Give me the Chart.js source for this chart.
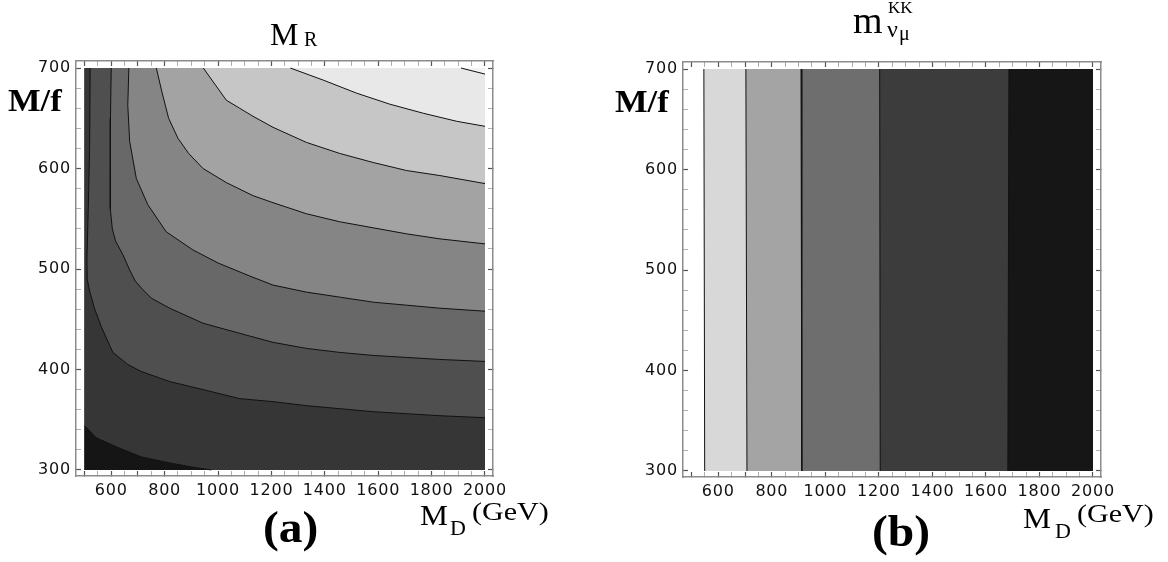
<!DOCTYPE html>
<html>
<head>
<meta charset="utf-8">
<script src="https://cdn.jsdelivr.net/npm/chart.js@4.4.1/dist/chart.umd.min.js"></script>
<style>
    html, body { margin: 0; padding: 0; background: #fff; }
    #page { position: relative; width: 1168px; height: 562px; overflow: hidden; background: #fff; }
    .box { position: absolute; top: 0; width: 584px; height: 562px; }
    .lbl { position: absolute; line-height: 1; white-space: nowrap; color: #000;
           font-family: "Liberation Serif", serif; transform-origin: 0 0; }
</style>
</head>
<body>
<div id="page">
    <div class="box" style="left:0"><canvas id="chartA" width="584" height="562"></canvas></div>
    <div class="box" style="left:584px"><canvas id="chartB" width="584" height="562"></canvas></div>
</div>
<script>
// Panel (a): contour lines of M_R, as [M_D, M/f] points
const mrLevel1 = [[500, 344], [544, 332], [619, 323], [713, 313], [819, 307], [900, 303], [975, 300]];
const mrLevel2 = [[521, 700], [519, 620], [514, 560], [509, 510], [510, 490], [519, 478], [537, 461], [562, 443],
    [606, 417], [662, 405], [712, 398], [819, 388], [944, 380], [1081, 371], [1206, 368], [1331, 364],
    [1456, 361], [1581, 358], [1706, 356], [1831, 354], [2000, 352]];
const mrLevel3 = [[600, 700], [597, 650], [596, 600], [597, 560], [604, 540], [616, 528], [644, 514], [669, 499],
    [690, 488], [713, 481], [750, 471], [819, 461], [944, 446], [1081, 436], [1206, 427], [1331, 421],
    [1456, 417], [1581, 414], [1706, 412], [1831, 410], [2000, 408]];
const mrLevel4 = [[666, 700], [662, 663], [669, 627], [694, 590], [737, 564], [806, 537], [906, 519], [1000, 506],
    [1119, 493], [1206, 484], [1331, 477], [1456, 472], [1581, 467], [1706, 464], [1831, 461], [2000, 458]];
const mrLevel5 = [[769, 700], [790, 676], [815, 650], [850, 630], [890, 615], [944, 600], [1031, 586], [1131, 573],
    [1206, 566], [1331, 555], [1456, 547], [1581, 541], [1706, 535], [1831, 530], [2000, 525]];
const mrLevel6 = [[945, 700], [1031, 668], [1081, 660], [1131, 652], [1206, 641], [1331, 626], [1456, 615],
    [1581, 606], [1706, 598], [1831, 593], [2000, 585]];
const mrLevel7 = [[1271, 700], [1394, 688], [1519, 675], [1644, 664], [1769, 655], [1894, 647], [2000, 642]];
const mrLevel8 = [[1910, 700], [2000, 694]];
const mrContours = [mrLevel1, mrLevel2, mrLevel3, mrLevel4, mrLevel5, mrLevel6, mrLevel7, mrLevel8];

// Panel (b): contours of m_nu KK are nearly vertical, crossing M/f = 700 and M/f = 300 here
const kkTopX = [546, 703, 909, 1203, 1686];
const kkBottomX = [549, 707, 912, 1205, 1682];

const mdRange = [500, 2000];
const mfRange = [300, 700];
const xTickLabels = [600, 800, 1000, 1200, 1400, 1600, 1800, 2000];
const yTickLabels = [300, 400, 500, 600, 700];

// grey shades, darkest band first
const mrShades = ['#151515', '#363636', '#4f4f4f', '#686868', '#858585', '#a3a3a3', '#c6c6c6', '#e8e8e8', '#f4f4f4'];
const kkShades = ['#d8d8d8', '#a4a4a4', '#6e6e6e', '#3c3c3c', '#161616'];

function toPoints(pairs) {
    return pairs.map(([x, y]) => ({x, y}));
}

// close a contour along the lower-left edges of the domain
function lowerLeft(line) {
    const pts = line.slice();
    const first = line[0];
    const last = line[line.length - 1];
    if (last[0] === mdRange[1]) pts.push([mdRange[1], mfRange[0]]);
    pts.push([mdRange[0], mfRange[0]]);
    if (first[1] === mfRange[1]) pts.push([mdRange[0], mfRange[1]]);
    return pts;
}

function lineSet(pairs) {
    return {data: toPoints(pairs), borderColor: '#111', borderWidth: 1, fill: false, order: 0};
}

function bandSet(pairs, color, order) {
    return {data: toPoints(pairs), backgroundColor: color, borderColor: 'transparent', borderWidth: 0,
        fill: 'shape', order: order};
}

const letterSpacing = {
    id: 'letterSpacing',
    beforeDraw(chart) { chart.ctx.letterSpacing = '0.8px'; }
};

function frameScales(yWidth, xHeight) {
    const isMajor = c => c.tick && (xTickLabels.includes(c.tick.value) || yTickLabels.includes(c.tick.value));
    const grid = {display: true, drawOnChartArea: false, drawTicks: true, tickLength: -5,
        tickColor: c => isMajor(c) ? '#555' : '#9a9a9a', tickWidth: c => isMajor(c) ? 1.2 : 0.8, z: 1};
    const border = {display: true, color: '#8c8c8c', width: 1.5, z: 1};
    const font = {family: 'DejaVu Sans', size: 16};
    const xRange = {min: 468, max: 2030};
    const yRange = {min: 294, max: 707};
    return {
        x: {type: 'linear', position: 'bottom', ...xRange, grid, border,
            ticks: {stepSize: 50, autoSkip: false, includeBounds: false, minRotation: 0, maxRotation: 0,
                padding: 10, color: '#111', font,
                callback: v => xTickLabels.includes(v) ? String(v) : ''},
            afterFit: s => { s.height = xHeight; }},
        x2: {type: 'linear', position: 'top', ...xRange, grid, border,
            ticks: {stepSize: 50, autoSkip: false, includeBounds: false, display: false},
            afterFit: s => { s.height = 0; }},
        y: {type: 'linear', position: 'left', ...yRange, grid, border,
            ticks: {stepSize: 20, autoSkip: false, includeBounds: false, padding: 10, color: '#111', font,
                callback: v => yTickLabels.includes(v) ? String(v) : ''},
            afterFit: s => { s.width = yWidth; }},
        y2: {type: 'linear', position: 'right', ...yRange, grid, border,
            ticks: {stepSize: 20, autoSkip: false, includeBounds: false, display: false},
            afterFit: s => { s.width = 0; }}
    };
}

function makeChart(id, datasets, padding, yWidth) {
    return new Chart(document.getElementById(id), {
        type: 'scatter',
        data: {datasets},
        options: {
            responsive: false,
            animation: false,
            showLine: true,
            elements: {point: {radius: 0, hoverRadius: 0}, line: {tension: 0}},
            layout: {padding},
            scales: frameScales(yWidth, 30),
            plugins: {legend: {display: false}, tooltip: {enabled: false}}
        },
        plugins: [letterSpacing]
    });
}

// Panel (a)
const dsA = mrContours.map(line => lineSet(line));
mrContours.forEach((line, i) => dsA.push(bandSet(lowerLeft(line), mrShades[i], i + 1)));
dsA.push(bandSet([[mdRange[0], mfRange[1]], [mdRange[1], mfRange[1]], [mdRange[1], mfRange[0]],
    [mdRange[0], mfRange[0]]], mrShades[8], 20));
makeChart('chartA', dsA, {left: 0, top: 61, right: 91, bottom: 56}, 76);

// Panel (b)
const dsB = [];
kkTopX.forEach((xt, i) => {
    const line = [[xt, mfRange[1]], [kkBottomX[i], mfRange[0]]];
    dsB.push(lineSet(line));
    dsB.push(bandSet(line.concat([[mdRange[1], mfRange[0]], [mdRange[1], mfRange[1]]]), kkShades[i], 10 - i));
});
makeChart('chartB', dsB, {left: 0, top: 62, right: 67, bottom: 55}, 99);

// Text around the plots
const page = document.getElementById('page');
function label(text, left, baseline, size, opts = {}) {
    const el = document.createElement('div');
    el.className = 'lbl';
    el.textContent = text;
    el.style.left = left + 'px';
    el.style.top = (baseline - 0.8375 * size) + 'px';
    el.style.fontSize = size + 'px';
    if (opts.bold) el.style.fontWeight = 'bold';
    if (opts.stretch) el.style.transform = 'scaleX(' + opts.stretch + ')';
    page.appendChild(el);
}

label('M', 270, 45, 32);
label('R', 304, 46, 20);
label('M/f', 8, 111, 32, {bold: true, stretch: 1.08});
label('(a)', 263, 543, 44, {bold: true, stretch: 1.08});
label('M', 420, 525, 30, {stretch: 1.05});
label('D', 450, 535, 22);
label('(GeV)', 472, 520, 25, {stretch: 1.2});

label('m', 853, 33, 38);
label('KK', 888, 13, 17);
label('\u03bd', 887, 37, 24);
label('\u03bc', 899, 40, 20);
label('M/f', 615, 112, 32, {bold: true, stretch: 1.08});
label('(b)', 872, 547, 44, {bold: true, stretch: 1.08});
label('M', 1023, 528, 30, {stretch: 1.05});
label('D', 1055, 538, 22);
label('(GeV)', 1077, 522, 25, {stretch: 1.2});
</script>
</body>
</html>
